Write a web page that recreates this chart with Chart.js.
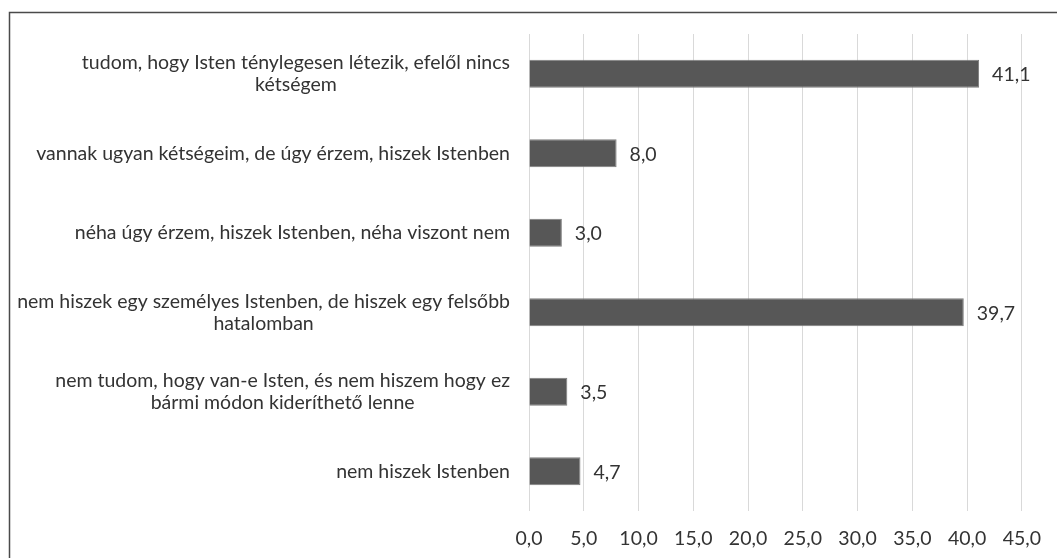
<!DOCTYPE html>
<html>
<head>
<meta charset="utf-8">
<script src="https://cdn.jsdelivr.net/npm/chart.js@4/dist/chart.umd.min.js"></script>
<style>
  html, body { margin: 0; padding: 0; background: #ffffff; }
  canvas { display: block; }
</style>
</head>
<body>
<canvas id="c" width="1057" height="558"></canvas>
<script>
// ---- data ----
const categories = [
  ["tudom, hogy Isten ténylegesen létezik, efelől nincs", "kétségem"],
  ["vannak ugyan kétségeim, de úgy érzem, hiszek Istenben"],
  ["néha úgy érzem, hiszek Istenben, néha viszont nem"],
  ["nem hiszek egy személyes Istenben, de hiszek egy felsőbb", "hatalomban"],
  ["nem tudom, hogy van-e Isten, és nem hiszem hogy ez", "bármi módon kideríthető lenne"],
  ["nem hiszek Istenben"]
];
const values = [41.1, 8.0, 3.0, 39.7, 3.5, 4.7];
const xMin = 0;
const xMax = 45;
const xStep = 5;

// ---- style ----
const FONT = "Lato";
const TEXT = "#333333";
const fmt = v => Number(v).toFixed(1).replace(".", ",");

const framePlugin = {
  id: "frame",
  beforeDraw(chart) {
    const ctx = chart.ctx;
    ctx.save();
    ctx.fillStyle = "#ffffff";
    ctx.fillRect(0, 0, chart.width, chart.height);
    ctx.strokeStyle = "#4a4a4a";
    ctx.lineWidth = 1.5;
    ctx.beginPath();
    ctx.moveTo(9.5, chart.height);
    ctx.lineTo(9.5, 12.5);
    ctx.lineTo(chart.width, 12.5);
    ctx.stroke();
    ctx.restore();
  }
};

const catLabelPlugin = {
  id: "catLabels",
  afterDraw(chart) {
    const ctx = chart.ctx;
    const y = chart.scales.y;
    const rightX = y.right - 19;
    const lh = 22;
    ctx.save();
    ctx.font = "19.5px " + FONT;
    ctx.fillStyle = TEXT;
    ctx.textAlign = "center";
    ctx.textBaseline = "middle";
    categories.forEach((lines, i) => {
      const py = y.getPixelForValue(i);
      const w = Math.max(...lines.map(l => ctx.measureText(l).width));
      const cx = rightX - w / 2;
      const y0 = py - (lines.length - 1) * lh / 2;
      lines.forEach((l, j) => ctx.fillText(l, cx, y0 + j * lh));
    });
    ctx.restore();
  }
};

const valueLabelPlugin = {
  id: "valueLabels",
  afterDatasetsDraw(chart) {
    const ctx = chart.ctx;
    const meta = chart.getDatasetMeta(0);
    ctx.save();
    ctx.font = "19.5px " + FONT;
    ctx.fillStyle = TEXT;
    ctx.textAlign = "left";
    ctx.textBaseline = "middle";
    meta.data.forEach((el, i) => {
      ctx.fillText(fmt(values[i]), el.x + 13, el.y + 1);
    });
    ctx.restore();
  }
};

new Chart(document.getElementById("c"), {
  type: "bar",
  data: {
    labels: categories,
    datasets: [{
      data: values,
      backgroundColor: "#575757",
      borderColor: "#7c7c7c",
      borderWidth: 1,
      barPercentage: 1,
      categoryPercentage: 0.355
    }]
  },
  options: {
    indexAxis: "y",
    responsive: false,
    devicePixelRatio: 1,
    animation: false,
    layout: { padding: { left: 10, top: 34, right: 32, bottom: 0 } },
    plugins: { legend: { display: false }, tooltip: { enabled: false } },
    scales: {
      y: {
        grid: { display: false },
        border: { display: false },
        ticks: { display: false },
        afterFit(s) { s.width = 519; }
      },
      x: {
        min: xMin,
        max: xMax,
        grid: { color: "#d9d9d9", lineWidth: 1, drawTicks: false },
        border: { display: false },
        ticks: {
          stepSize: xStep,
          padding: 16,
          color: TEXT,
          font: { family: FONT, size: 19.5 },
          maxRotation: 0,
          autoSkip: false,
          callback: v => fmt(v)
        },
        afterFit(s) { s.height = 47; }
      }
    }
  },
  plugins: [framePlugin, catLabelPlugin, valueLabelPlugin]
});
</script>
</body>
</html>
